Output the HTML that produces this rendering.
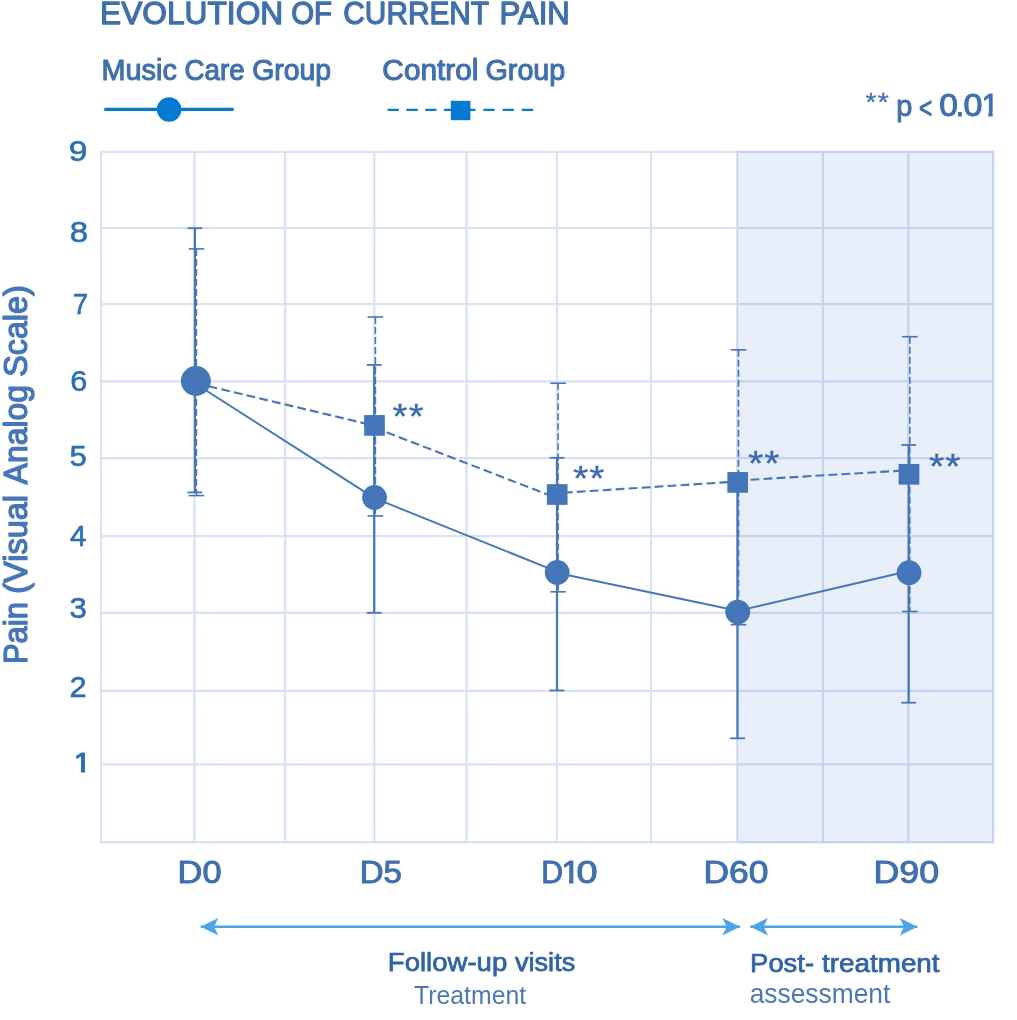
<!DOCTYPE html>
<html lang="en"><head><meta charset="utf-8"><title>Evolution of current pain</title>
<style>html,body{margin:0;padding:0;background:#fff}svg{display:block}</style></head>
<body>
<svg width="1017" height="1020" viewBox="0 0 1017 1020" font-family="'Liberation Sans', sans-serif">
<rect width="1017" height="1020" fill="#fff"/>
<g stroke="#d8e2f2" stroke-width="2.2" fill="none">
<line x1="101.1" y1="150.70000000000002" x2="101.1" y2="843.3000000000001"/>
<line x1="194.5" y1="150.70000000000002" x2="194.5" y2="843.3000000000001"/>
<line x1="285.2" y1="150.70000000000002" x2="285.2" y2="843.3000000000001"/>
<line x1="374.3" y1="150.70000000000002" x2="374.3" y2="843.3000000000001"/>
<line x1="466.6" y1="150.70000000000002" x2="466.6" y2="843.3000000000001"/>
<line x1="557.0" y1="150.70000000000002" x2="557.0" y2="843.3000000000001"/>
<line x1="650.9" y1="150.70000000000002" x2="650.9" y2="843.3000000000001"/>
<line x1="737.0" y1="150.70000000000002" x2="737.0" y2="843.3000000000001"/>
<line x1="823.0" y1="150.70000000000002" x2="823.0" y2="843.3000000000001"/>
<line x1="908.3" y1="150.70000000000002" x2="908.3" y2="843.3000000000001"/>
<line x1="993.1" y1="150.70000000000002" x2="993.1" y2="843.3000000000001"/>
<line x1="100.0" y1="151.8" x2="994.2" y2="151.8"/>
<line x1="100.0" y1="228.0" x2="994.2" y2="228.0"/>
<line x1="100.0" y1="304.2" x2="994.2" y2="304.2"/>
<line x1="100.0" y1="381.3" x2="994.2" y2="381.3"/>
<line x1="100.0" y1="458.2" x2="994.2" y2="458.2"/>
<line x1="100.0" y1="536.1" x2="994.2" y2="536.1"/>
<line x1="100.0" y1="612.8" x2="994.2" y2="612.8"/>
<line x1="100.0" y1="690.9" x2="994.2" y2="690.9"/>
<line x1="100.0" y1="764.3" x2="994.2" y2="764.3"/>
<line x1="100.0" y1="842.2" x2="994.2" y2="842.2"/>
</g>
<rect x="737.0" y="150.70000000000002" width="257.20000000000005" height="692.6000000000001" fill="#e8effb" style="mix-blend-mode:multiply"/>
<g stroke="#4576b9" fill="none">
<line x1="196.4" y1="248.9" x2="196.4" y2="495.6" stroke-width="1.6" stroke-dasharray="7 3"/>
<line x1="188.6" y1="248.9" x2="204.20000000000002" y2="248.9" stroke-width="1.6"/>
<line x1="188.6" y1="495.6" x2="204.20000000000002" y2="495.6" stroke-width="1.6"/>
<line x1="375.4" y1="317.0" x2="375.4" y2="515.9" stroke-width="1.6" stroke-dasharray="7 3"/>
<line x1="367.59999999999997" y1="317.0" x2="383.2" y2="317.0" stroke-width="1.6"/>
<line x1="367.59999999999997" y1="515.9" x2="383.2" y2="515.9" stroke-width="1.6"/>
<line x1="558.1" y1="383.2" x2="558.1" y2="591.8" stroke-width="1.6" stroke-dasharray="7 3"/>
<line x1="550.3000000000001" y1="383.2" x2="565.9" y2="383.2" stroke-width="1.6"/>
<line x1="550.3000000000001" y1="591.8" x2="565.9" y2="591.8" stroke-width="1.6"/>
<line x1="738.5" y1="349.8" x2="738.5" y2="624.7" stroke-width="1.6" stroke-dasharray="7 3"/>
<line x1="730.7" y1="349.8" x2="746.3" y2="349.8" stroke-width="1.6"/>
<line x1="730.7" y1="624.7" x2="746.3" y2="624.7" stroke-width="1.6"/>
<line x1="909.8" y1="336.7" x2="909.8" y2="611.5" stroke-width="1.6" stroke-dasharray="7 3"/>
<line x1="902.0" y1="336.7" x2="917.5999999999999" y2="336.7" stroke-width="1.6"/>
<line x1="902.0" y1="611.5" x2="917.5999999999999" y2="611.5" stroke-width="1.6"/>
<line x1="194.9" y1="228.2" x2="194.9" y2="492.4" stroke-width="2.2"/>
<line x1="187.5" y1="228.2" x2="202.3" y2="228.2" stroke-width="1.8"/>
<line x1="187.5" y1="492.4" x2="202.3" y2="492.4" stroke-width="1.8"/>
<line x1="374.2" y1="364.9" x2="374.2" y2="612.8" stroke-width="2.2"/>
<line x1="366.8" y1="364.9" x2="381.59999999999997" y2="364.9" stroke-width="1.8"/>
<line x1="366.8" y1="612.8" x2="381.59999999999997" y2="612.8" stroke-width="1.8"/>
<line x1="557.0" y1="457.8" x2="557.0" y2="690.5" stroke-width="2.2"/>
<line x1="549.6" y1="457.8" x2="564.4" y2="457.8" stroke-width="1.8"/>
<line x1="549.6" y1="690.5" x2="564.4" y2="690.5" stroke-width="1.8"/>
<line x1="737.5" y1="484.0" x2="737.5" y2="738.3" stroke-width="2.2"/>
<line x1="730.1" y1="484.0" x2="744.9" y2="484.0" stroke-width="1.8"/>
<line x1="730.1" y1="738.3" x2="744.9" y2="738.3" stroke-width="1.8"/>
<line x1="908.7" y1="445.0" x2="908.7" y2="702.7" stroke-width="2.2"/>
<line x1="901.3000000000001" y1="445.0" x2="916.1" y2="445.0" stroke-width="1.8"/>
<line x1="901.3000000000001" y1="702.7" x2="916.1" y2="702.7" stroke-width="1.8"/>
<line x1="196.0" y1="383.3" x2="374.5" y2="425.7" stroke-width="2.1" stroke-dasharray="8.8 4.2" stroke-dashoffset="0"/>
<line x1="374.5" y1="427.6" x2="557.5" y2="498.4" stroke-width="2.1" stroke-dasharray="8.8 4.2" stroke-dashoffset="0"/>
<line x1="557.5" y1="493.1" x2="737.6" y2="481.5" stroke-width="2.1" stroke-dasharray="8.8 4.2" stroke-dashoffset="6.7"/>
<line x1="737.6" y1="480.5" x2="909.0" y2="470.2" stroke-width="2.1" stroke-dasharray="8.8 4.2" stroke-dashoffset="0"/>
<line x1="196.0" y1="384.0" x2="374.5" y2="498.1" stroke-width="1.9"/>
<line x1="374.5" y1="498.2" x2="557.5" y2="571.8" stroke-width="1.9"/>
<line x1="557.5" y1="573.0" x2="737.6" y2="610.8" stroke-width="1.9"/>
<line x1="737.6" y1="610.9" x2="909.0" y2="571.0" stroke-width="1.9"/>
</g>
<g fill="#4576b9">
<rect x="364.15" y="415.04999999999995" width="20.7" height="20.7"/>
<rect x="546.85" y="484.15" width="20.7" height="20.7"/>
<rect x="727.35" y="472.04999999999995" width="20.7" height="20.7"/>
<rect x="898.65" y="463.95" width="20.7" height="20.7"/>
<circle cx="195.9" cy="381.0" r="15.0"/>
<circle cx="374.5" cy="497.5" r="12.4"/>
<circle cx="557.2" cy="572.4" r="12.4"/>
<circle cx="737.7" cy="612.1" r="12.4"/>
<circle cx="909.0" cy="572.7" r="12.4"/>
</g>
<line x1="104.3" y1="109.35" x2="233.7" y2="109.35" stroke="#0679d0" stroke-width="3.3"/>
<circle cx="169.1" cy="109.5" r="12.25" fill="#0679d0"/>
<line x1="387.6" y1="109.9" x2="452" y2="109.9" stroke="#0679d0" stroke-width="2.4" stroke-dasharray="11.3 7.5"/>
<line x1="533.1" y1="109.9" x2="462" y2="109.9" stroke="#0679d0" stroke-width="2.4" stroke-dasharray="11.3 7.9"/>
<rect x="450.8" y="100.8" width="19.6" height="19.4" fill="#0679d0"/>
<line x1="200.6" y1="926.7" x2="740.1" y2="926.7" stroke="#4ca5e9" stroke-width="2.6"/>
<path d="M200.6,926.7 L218.29999999999998,917.9000000000001 L214.1,926.7 L218.29999999999998,935.5 Z" fill="#4ca5e9"/>
<path d="M740.1,926.7 L722.4,917.9000000000001 L726.6,926.7 L722.4,935.5 Z" fill="#4ca5e9"/>
<line x1="750.2" y1="926.7" x2="917.5" y2="926.7" stroke="#4ca5e9" stroke-width="2.6"/>
<path d="M750.2,926.7 L767.9000000000001,917.9000000000001 L763.7,926.7 L767.9000000000001,935.5 Z" fill="#4ca5e9"/>
<path d="M917.5,926.7 L899.8,917.9000000000001 L904.0,926.7 L899.8,935.5 Z" fill="#4ca5e9"/>
<clipPath id="cp_pval"><rect x="582.79" y="80.95" width="400.00" height="47.25"/><rect x="981.79" y="80.95" width="17.39" height="31.20"/><rect x="988.42" y="80.95" width="4.13" height="47.25"/><rect x="998.19" y="80.95" width="400.00" height="47.25"/></clipPath>
<clipPath id="cp_n1"><rect x="-324.71" y="740.15" width="400.00" height="42.75"/><rect x="74.29" y="740.15" width="17.39" height="28.12"/><rect x="80.92" y="740.15" width="4.13" height="42.75"/><rect x="90.69" y="740.15" width="400.00" height="42.75"/></clipPath>
<clipPath id="cp_xD10"><rect x="162.72" y="848.32" width="400.00" height="47.70"/><rect x="561.72" y="848.32" width="18.89" height="31.55"/><rect x="568.99" y="848.32" width="4.36" height="47.70"/><rect x="579.61" y="848.32" width="400.00" height="47.70"/></clipPath>
<text font-size="32" fill="#4170ae" stroke="#4170ae" stroke-width="1.3" stroke-linejoin="round"><tspan id="ti1" x="100.08" y="24.4" textLength="183.08" lengthAdjust="spacingAndGlyphs">EVOLUTION</tspan> <tspan id="ti2" x="291.14" y="24.4" textLength="40.73" lengthAdjust="spacingAndGlyphs">OF</tspan> <tspan id="ti3" x="343.34" y="24.4" textLength="145.21" lengthAdjust="spacingAndGlyphs">CURRENT</tspan> <tspan id="ti4" x="499.47" y="24.4" textLength="70.30" lengthAdjust="spacingAndGlyphs">PAIN</tspan></text>
<text font-size="29" fill="#4170ae" stroke="#4170ae" stroke-width="1.1" stroke-linejoin="round"><tspan id="lg1" x="101.56" y="79.6" textLength="75.30" lengthAdjust="spacingAndGlyphs">Music</tspan> <tspan id="lg2" x="184.55" y="79.6" textLength="59.98" lengthAdjust="spacingAndGlyphs">Care</tspan> <tspan id="lg3" x="252.22" y="79.6" textLength="78.96" lengthAdjust="spacingAndGlyphs">Group</tspan></text>
<text font-size="29" fill="#4170ae" stroke="#4170ae" stroke-width="1.1" stroke-linejoin="round"><tspan id="lg4" x="382.38" y="79.6" textLength="96.07" lengthAdjust="spacingAndGlyphs">Control</tspan> <tspan id="lg5" x="485.55" y="79.6" textLength="79.71" lengthAdjust="spacingAndGlyphs">Group</tspan></text>
<text clip-path="url(#cp_pval)" font-size="26" fill="#4170ae" stroke="#4170ae" stroke-width="0.3" stroke-linejoin="round"><tspan id="psta" x="865.44" y="111.35" textLength="10.78" lengthAdjust="spacingAndGlyphs">*</tspan><tspan id="pstb" x="877.48" y="111.35" textLength="11.24" lengthAdjust="spacingAndGlyphs">*</tspan> <tspan id="pv1" x="896.19" y="115.6" font-size="29" stroke-width="1.0" textLength="16.11" lengthAdjust="spacingAndGlyphs">p</tspan> <tspan id="pv2" x="919.02" y="118.0" font-size="30" stroke-width="1.1" textLength="13.20" lengthAdjust="spacingAndGlyphs">&lt;</tspan> <tspan id="pv3a" x="939.31" y="115.6" font-size="31.5" stroke-width="1.1" textLength="18.69" lengthAdjust="spacingAndGlyphs">0</tspan><tspan id="pv3b" x="955.74" y="115.6" font-size="31.5" stroke-width="1.1" textLength="8.36" lengthAdjust="spacingAndGlyphs">.</tspan><tspan id="pv3c" x="963.46" y="115.6" font-size="31.5" stroke-width="1.1" textLength="18.95" lengthAdjust="spacingAndGlyphs">0</tspan><tspan id="pv4" x="981.63" y="115.6" font-size="31.5" stroke-width="1.1" textLength="16.89" lengthAdjust="spacingAndGlyphs">1</tspan></text>
<text font-size="29.5" fill="#2c6fb4" stroke="#2c6fb4" stroke-width="0.6" stroke-linejoin="round"><tspan id="n9" x="68.71" y="160.9" textLength="18.73" lengthAdjust="spacingAndGlyphs">9</tspan></text>
<text font-size="29.5" fill="#2c6fb4" stroke="#2c6fb4" stroke-width="0.6" stroke-linejoin="round"><tspan id="n8" x="69.83" y="241.8" textLength="18.37" lengthAdjust="spacingAndGlyphs">8</tspan></text>
<text font-size="29.5" fill="#2c6fb4" stroke="#2c6fb4" stroke-width="0.6" stroke-linejoin="round"><tspan id="n7" x="72.77" y="313.65" textLength="15.48" lengthAdjust="spacingAndGlyphs">7</tspan></text>
<text font-size="29.5" fill="#2c6fb4" stroke="#2c6fb4" stroke-width="0.6" stroke-linejoin="round"><tspan id="n6" x="70.19" y="391.2" textLength="17.07" lengthAdjust="spacingAndGlyphs">6</tspan></text>
<text font-size="29.5" fill="#2c6fb4" stroke="#2c6fb4" stroke-width="0.6" stroke-linejoin="round"><tspan id="n5" x="69.54" y="465.95" textLength="17.24" lengthAdjust="spacingAndGlyphs">5</tspan></text>
<text font-size="29.5" fill="#2c6fb4" stroke="#2c6fb4" stroke-width="0.6" stroke-linejoin="round"><tspan id="n4" x="70.14" y="546.15" textLength="16.47" lengthAdjust="spacingAndGlyphs">4</tspan></text>
<text font-size="29.5" fill="#2c6fb4" stroke="#2c6fb4" stroke-width="0.6" stroke-linejoin="round"><tspan id="n3" x="69.58" y="618.15" textLength="17.29" lengthAdjust="spacingAndGlyphs">3</tspan></text>
<text font-size="29.5" fill="#2c6fb4" stroke="#2c6fb4" stroke-width="0.6" stroke-linejoin="round"><tspan id="n2" x="69.58" y="696.6999999999999" textLength="17.13" lengthAdjust="spacingAndGlyphs">2</tspan></text>
<text clip-path="url(#cp_n1)" font-size="28.5" fill="#2c6fb4" stroke="#2c6fb4" stroke-width="1.1" stroke-linejoin="round"><tspan id="n1" x="74.13" y="771.5" textLength="16.89" lengthAdjust="spacingAndGlyphs">1</tspan></text>
<text transform="translate(26.7,0) rotate(-90)" font-size="32.5" fill="#4476b9" stroke="#4476b9" stroke-width="1.3" stroke-linejoin="round"><tspan id="yl1" x="-664.00" y="0" textLength="61.82" lengthAdjust="spacingAndGlyphs">Pain</tspan> <tspan id="yl2" x="-593.76" y="0" textLength="98.78" lengthAdjust="spacingAndGlyphs">(Visual</tspan> <tspan id="yl3" x="-484.38" y="0" textLength="99.43" lengthAdjust="spacingAndGlyphs">Analog</tspan> <tspan id="yl4" x="-376.78" y="0" textLength="91.48" lengthAdjust="spacingAndGlyphs">Scale)</tspan></text>
<text font-size="31.8" fill="#4170ae" stroke="#4170ae" stroke-width="1.0" stroke-linejoin="round"><tspan id="xD0" x="177.63" y="883.3" textLength="43.95" lengthAdjust="spacingAndGlyphs">D0</tspan></text>
<text font-size="31.8" fill="#4170ae" stroke="#4170ae" stroke-width="1.0" stroke-linejoin="round"><tspan id="xD5" x="359.71" y="883.3" textLength="42.31" lengthAdjust="spacingAndGlyphs">D5</tspan></text>
<text font-size="31.8" fill="#4170ae" stroke="#4170ae" stroke-width="1.0" stroke-linejoin="round"><tspan id="xD60" x="703.49" y="883.3" textLength="65.03" lengthAdjust="spacingAndGlyphs">D60</tspan></text>
<text font-size="31.8" fill="#4170ae" stroke="#4170ae" stroke-width="1.0" stroke-linejoin="round"><tspan id="xD90" x="873.51" y="883.3" textLength="65.69" lengthAdjust="spacingAndGlyphs">D90</tspan></text>
<text clip-path="url(#cp_xD10)" font-size="31.8" fill="#4170ae" stroke="#4170ae" stroke-width="1.0" stroke-linejoin="round"><tspan id="xD10a" x="541.13" y="883.3" textLength="21.83" lengthAdjust="spacingAndGlyphs">D</tspan><tspan id="xD10b" x="561.22" y="883.3" textLength="18.95" lengthAdjust="spacingAndGlyphs">1</tspan><tspan id="xD10c" x="576.47" y="883.3" textLength="21.08" lengthAdjust="spacingAndGlyphs">0</tspan></text>
<text font-size="26" fill="#3163a6" stroke="#3163a6" stroke-width="0.75" stroke-linejoin="round"><tspan id="b1a" x="387.83" y="971.0" textLength="119.39" lengthAdjust="spacingAndGlyphs">Follow-up</tspan> <tspan id="b1b" x="514.92" y="971.0" textLength="60.38" lengthAdjust="spacingAndGlyphs">visits</tspan></text>
<text font-size="25.2" fill="#4b79b8"><tspan id="b2" x="414.00" y="1003.6" textLength="112.13" lengthAdjust="spacingAndGlyphs">Treatment</tspan></text>
<text font-size="26" fill="#3163a6" stroke="#3163a6" stroke-width="0.75" stroke-linejoin="round"><tspan id="b3a" x="750.13" y="971.8" textLength="63.87" lengthAdjust="spacingAndGlyphs">Post-</tspan> <tspan id="b3b" x="822.12" y="971.8" textLength="117.45" lengthAdjust="spacingAndGlyphs">treatment</tspan></text>
<text font-size="27.5" fill="#4b79b8"><tspan id="b4" x="749.63" y="1002.6" textLength="140.68" lengthAdjust="spacingAndGlyphs">assessment</tspan></text>
<text font-size="35.6" fill="#3a6aae" stroke="#3a6aae" stroke-width="0.3" stroke-linejoin="round"><tspan id="st0a" x="392.53" y="427.54999999999995" textLength="14.91" lengthAdjust="spacingAndGlyphs">*</tspan><tspan id="st0b" x="408.72" y="427.54999999999995" textLength="14.97" lengthAdjust="spacingAndGlyphs">*</tspan></text>
<text font-size="35.6" fill="#3a6aae" stroke="#3a6aae" stroke-width="0.3" stroke-linejoin="round"><tspan id="st1a" x="573.11" y="490.45" textLength="15.37" lengthAdjust="spacingAndGlyphs">*</tspan><tspan id="st1b" x="589.33" y="490.45" textLength="15.19" lengthAdjust="spacingAndGlyphs">*</tspan></text>
<text font-size="35.6" fill="#3a6aae" stroke="#3a6aae" stroke-width="0.3" stroke-linejoin="round"><tspan id="st2a" x="748.11" y="475.45" textLength="15.37" lengthAdjust="spacingAndGlyphs">*</tspan><tspan id="st2b" x="764.33" y="475.45" textLength="15.19" lengthAdjust="spacingAndGlyphs">*</tspan></text>
<text font-size="35.6" fill="#3a6aae" stroke="#3a6aae" stroke-width="0.3" stroke-linejoin="round"><tspan id="st3a" x="929.11" y="478.45" textLength="15.37" lengthAdjust="spacingAndGlyphs">*</tspan><tspan id="st3b" x="945.33" y="478.45" textLength="15.19" lengthAdjust="spacingAndGlyphs">*</tspan></text>
</svg>
</body></html>
